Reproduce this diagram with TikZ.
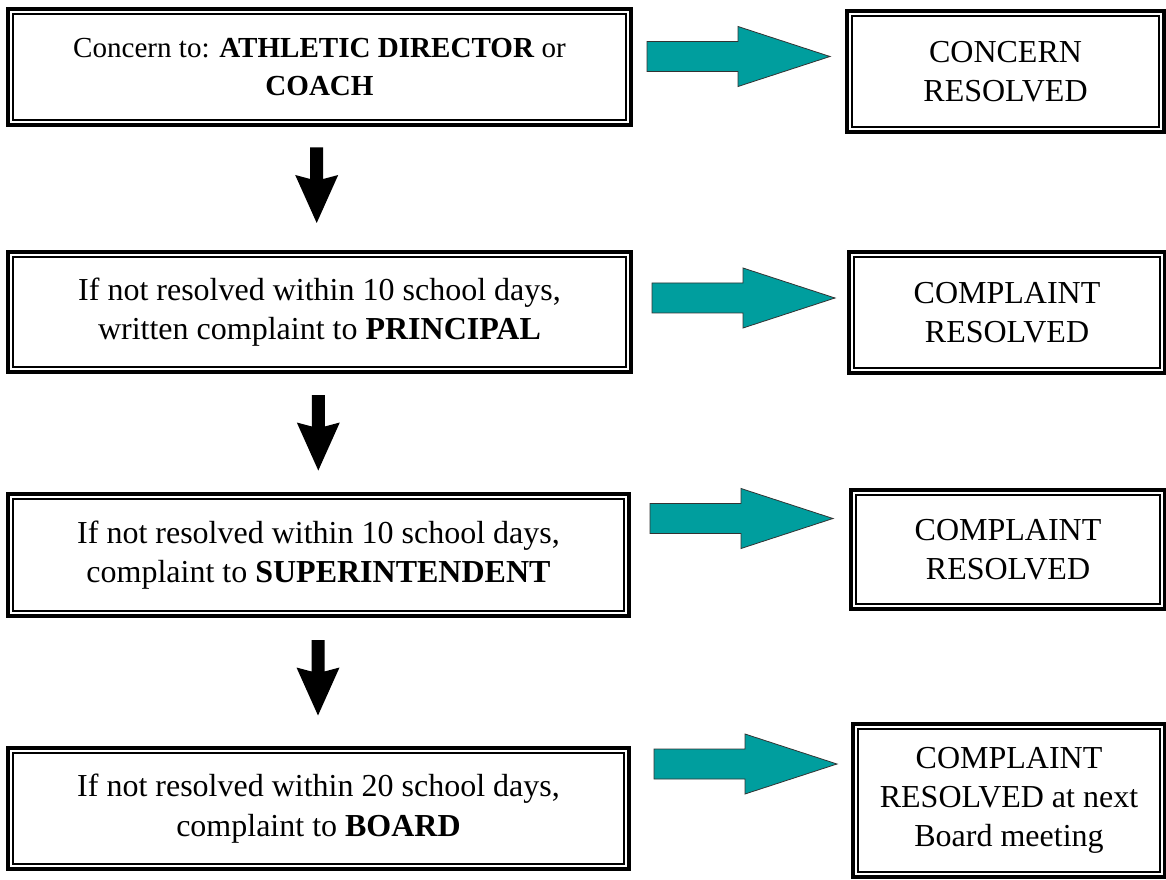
\documentclass[tikz,border=0pt]{standalone}
\usepackage{fontspec}
\setmainfont{Liberation Serif}
\definecolor{tealarrow}{RGB}{0,158,158}
\begin{document}
\begin{tikzpicture}[x=0.75pt,y=-0.75pt,
  box/.style={draw, line width=1.5pt, inner sep=0pt, align=center, font=\fontsize{24}{29.5}\selectfont},
  outerline/.style={line width=2.8pt},
  greenarrow/.pic={\draw[fill=tealarrow, draw=black!80, line width=0.6pt] (0,-15) -- (91,-15) -- (91,-30) -- (183,0) -- (91,30) -- (91,15) -- (0,15) -- cycle;},
  downarrow/.pic={\fill[black] (-6.5,0) -- (6.5,0) -- (6.5,31.5) -- (21.5,27.5) -- (0,75.5) -- (-21.5,27.5) -- (-6.5,31.5) -- cycle;}
]
\useasboundingbox (0,0) rectangle (1166,880);

\node[box, font=\fontsize{21.8}{29}\selectfont, minimum width=459.2pt, minimum height=78.9pt] (c1) at (319.5,67) {Concern to: \textbf{ATHLETIC DIRECTOR} or\\\textbf{COACH}};
\node[box, minimum width=459.2pt, minimum height=82.1pt] (c2) at (319.5,312) {If not resolved within 10 school days,\\written complaint to \textbf{PRINCIPAL}};
\node[box, minimum width=457.7pt, minimum height=83.4pt] (c3) at (318.5,555) {If not resolved within 10 school days,\\complaint to \textbf{SUPERINTENDENT}};
\node[box, minimum width=457.7pt, minimum height=82.7pt] (c4) at (318.5,808.5) {If not resolved within 20 school days,\\complaint to \textbf{BOARD}};
\node[box, minimum width=229.7pt, minimum height=82.7pt] (r1) at (1005.5,71.5) {CONCERN\\RESOLVED};
\node[box, minimum width=229pt, minimum height=82.7pt] (r2) at (1007,312.5) {COMPLAINT\\RESOLVED};
\node[box, minimum width=227.4pt, minimum height=81.2pt] (r3) at (1008,549.5) {COMPLAINT\\RESOLVED};
\node[box, font=\fontsize{24}{29}\selectfont, minimum width=225.9pt, minimum height=106.7pt] (r4) at (1009,800.5) {COMPLAINT\\RESOLVED at next\\Board meeting};

\foreach \n in {c1,c2,c3,c4,r1,r2,r3,r4}
  \draw[outerline] ([shift={(-4.55,-4.55)}]\n.north west) rectangle ([shift={(4.55,4.55)}]\n.south east);

\pic at (316.7,147.5) {downarrow};
\pic at (318.3,395) {downarrow};
\pic at (318,640) {downarrow};

\pic at (647,56.5) {greenarrow};
\pic at (652,298) {greenarrow};
\pic at (650,518.5) {greenarrow};
\pic at (654,764) {greenarrow};
\end{tikzpicture}
\end{document}
